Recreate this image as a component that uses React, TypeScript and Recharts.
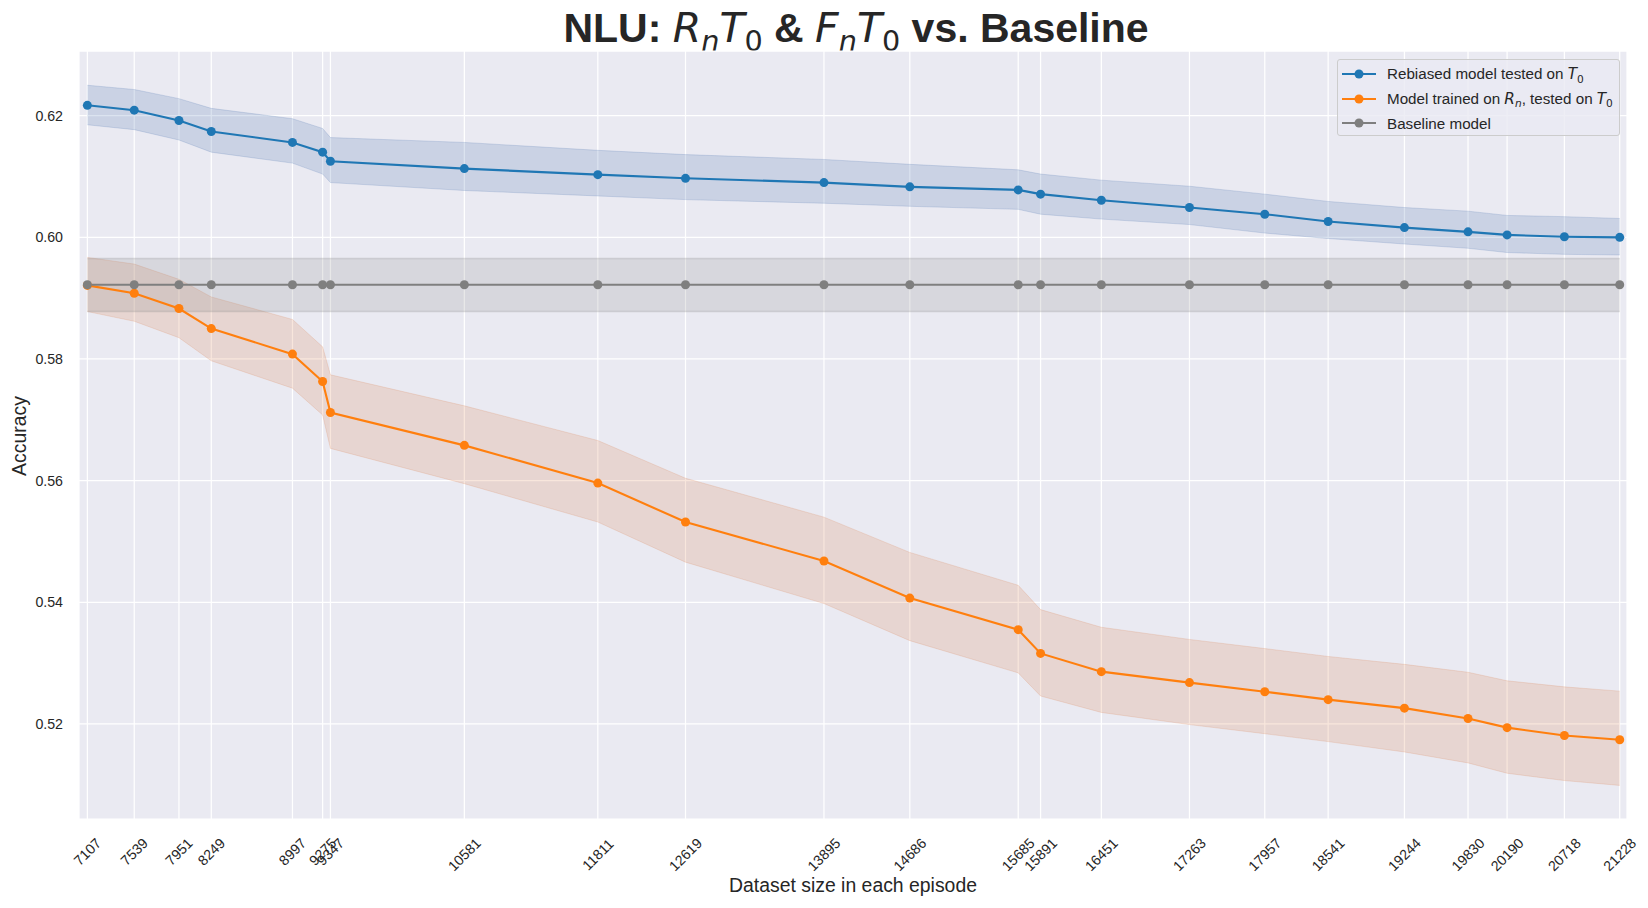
import React from 'react';
import { ComposedChart, Line, Area, XAxis, YAxis, CartesianGrid, Label } from 'recharts';

// dataset size per episode (also the x tick labels)
const sizes = [7107, 7539, 7951, 8249, 8997, 9275, 9347, 10581, 11811, 12619, 13895, 14686, 15685, 15891, 16451, 17263, 17957, 18541, 19244, 19830, 20190, 20718, 21228];

// Rebiased model tested on T0
const rebiasedMean = [0.6217, 0.6209, 0.6192, 0.6174, 0.6156, 0.6140, 0.6125, 0.6113, 0.6103, 0.6097, 0.6090, 0.6083, 0.6078, 0.6071, 0.6061, 0.6049, 0.6038, 0.6026, 0.6016, 0.6009, 0.6004, 0.6001, 0.6000];
const rebiasedHi = [0.6250, 0.6243, 0.6228, 0.6212, 0.6195, 0.6179, 0.6164, 0.6156, 0.6143, 0.6136, 0.6128, 0.6120, 0.6111, 0.6104, 0.6094, 0.6084, 0.6071, 0.6059, 0.6049, 0.6043, 0.6036, 0.6034, 0.6031];
const rebiasedLo = [0.6185, 0.6177, 0.6160, 0.6140, 0.6122, 0.6104, 0.6090, 0.6077, 0.6068, 0.6062, 0.6056, 0.6051, 0.6046, 0.6038, 0.6030, 0.6021, 0.6007, 0.5998, 0.5989, 0.5982, 0.5975, 0.5972, 0.5971];

// Model trained on Rn, tested on T0
const trainedMean = [0.5921, 0.5908, 0.5883, 0.5850, 0.5808, 0.5763, 0.5712, 0.5658, 0.5596, 0.5532, 0.5468, 0.5407, 0.5355, 0.5316, 0.5286, 0.5268, 0.5253, 0.5240, 0.5226, 0.5209, 0.5194, 0.5181, 0.5174];
const trainedHi = [0.5967, 0.5956, 0.5931, 0.5902, 0.5865, 0.5820, 0.5774, 0.5723, 0.5666, 0.5604, 0.5540, 0.5482, 0.5428, 0.5388, 0.5359, 0.5339, 0.5324, 0.5311, 0.5298, 0.5285, 0.5271, 0.5261, 0.5254];
const trainedLo = [0.5878, 0.5862, 0.5835, 0.5797, 0.5752, 0.5708, 0.5653, 0.5595, 0.5532, 0.5466, 0.5398, 0.5337, 0.5284, 0.5246, 0.5219, 0.5199, 0.5184, 0.5171, 0.5154, 0.5136, 0.5119, 0.5107, 0.5099];

// Baseline model
const baselineMean = [0.5922, 0.5922, 0.5922, 0.5922, 0.5922, 0.5922, 0.5922, 0.5922, 0.5922, 0.5922, 0.5922, 0.5922, 0.5922, 0.5922, 0.5922, 0.5922, 0.5922, 0.5922, 0.5922, 0.5922, 0.5922, 0.5922, 0.5922];
const baselineHi = [0.5965, 0.5965, 0.5965, 0.5965, 0.5965, 0.5965, 0.5965, 0.5965, 0.5965, 0.5965, 0.5965, 0.5965, 0.5965, 0.5965, 0.5965, 0.5965, 0.5965, 0.5965, 0.5965, 0.5965, 0.5965, 0.5965, 0.5965];
const baselineLo = [0.5878, 0.5878, 0.5878, 0.5878, 0.5878, 0.5878, 0.5878, 0.5878, 0.5878, 0.5878, 0.5878, 0.5878, 0.5878, 0.5878, 0.5878, 0.5878, 0.5878, 0.5878, 0.5878, 0.5878, 0.5878, 0.5878, 0.5878];

const yTicks = [0.52, 0.54, 0.56, 0.58, 0.60, 0.62];

// line colours (tab10) and band colours (seaborn deep)
const BLUE = '#1f77b4';
const ORANGE = '#ff7f0e';
const GRAY = '#7f7f7f';
const BLUE_BAND = '#4c72b0';
const ORANGE_BAND = '#dd8452';
const GRAY_BAND = '#8c8c8c';
const TEXT = '#262626';
const FONT = '"Liberation Sans", Arial, Helvetica, sans-serif';
const MATH = '"DejaVu Sans", sans-serif';

const data = sizes.map((x, i) => ({
  x,
  rb: rebiasedMean[i],
  rbBand: [rebiasedLo[i], rebiasedHi[i]],
  tr: trainedMean[i],
  trBand: [trainedLo[i], trainedHi[i]],
  bl: baselineMean[i],
  blBand: [baselineLo[i], baselineHi[i]],
}));

const TICK_FS = 14.2;
const DOT_R = 4.5;

const XTick = (props: any) => {
  const { x, payload } = props;
  const label = String(payload.value);
  const w = label.length * 0.556 * TICK_FS;
  const h = TICK_FS * 1.1;
  const cy = 835 + (w + h) * 0.3536;
  return (
    <text
      x={x}
      y={cy}
      transform={`rotate(-45 ${x} ${cy})`}
      textAnchor="middle"
      dominantBaseline="central"
      fontSize={TICK_FS}
      fontFamily={FONT}
      fill={TEXT}
    >
      {label}
    </text>
  );
};

const YTick = (props: any) => {
  const { y, payload } = props;
  return (
    <text x={63} y={y} textAnchor="end" dominantBaseline="central" fontSize={TICK_FS} fontFamily={FONT} fill={TEXT}>
      {Number(payload.value).toFixed(2)}
    </text>
  );
};

// subscript: letters stay italic, digits upright (like mathtext)
const Sub = ({ children, upright }: { children: React.ReactNode; upright?: boolean }) => (
  <span style={{ fontSize: '70%', position: 'relative', top: '0.32em', fontStyle: upright ? 'normal' : 'italic' }}>{children}</span>
);

const M = ({ children }: { children: React.ReactNode }) => (
  <span style={{ fontFamily: MATH, fontStyle: 'italic', fontWeight: 'normal' }}>{children}</span>
);

const LegendRow = ({ color, children }: { color: string; children: React.ReactNode }) => (
  <div style={{ display: 'flex', alignItems: 'center', height: 24.5 }}>
    <svg width={34} height={12} style={{ marginRight: 11, flex: 'none' }}>
      <line x1={0} y1={6} x2={34} y2={6} stroke={color} strokeWidth={2.1} />
      <circle cx={17} cy={6} r={DOT_R} fill={color} />
    </svg>
    <span style={{ whiteSpace: 'nowrap' }}>{children}</span>
  </div>
);

export default function App() {
  return (
    <div style={{ position: 'relative', width: 1648, height: 908, fontFamily: FONT, color: TEXT, background: '#fff' }}>
      <style>{'body{margin:0}'}</style>

      {/* title */}
      <div
        style={{
          position: 'absolute',
          left: 0,
          width: 1712,
          top: 8,
          textAlign: 'center',
          fontSize: 41,
          lineHeight: '41px',
          fontWeight: 'bold',
          whiteSpace: 'nowrap',
        }}
      >
        NLU: <M>R<Sub>n</Sub>T<Sub upright>0</Sub></M> &amp; <M>F<Sub>n</Sub>T<Sub upright>0</Sub></M> vs. Baseline
      </div>

      <ComposedChart width={1648} height={908} data={data} margin={{ top: 51, right: 21, bottom: 0, left: 0 }}>
        <CartesianGrid fill="#EAEAF2" fillOpacity={1} stroke="#ffffff" strokeWidth={1.25} />
        <XAxis
          dataKey="x"
          type="number"
          domain={[7030, 21295]}
          allowDataOverflow
          ticks={sizes}
          interval={0}
          height={89}
          tick={<XTick />}
          tickLine={false}
          axisLine={false}
        >
          <Label
            content={() => (
              <text x={853} y={892} textAnchor="middle" fontSize={19.4} fontFamily={FONT} fill={TEXT}>
                Dataset size in each episode
              </text>
            )}
          />
        </XAxis>
        <YAxis
          type="number"
          domain={[0.50438, 0.63063]}
          allowDataOverflow
          ticks={yTicks}
          interval={0}
          width={79}
          tick={<YTick />}
          tickLine={false}
          axisLine={false}
        >
          <Label
            content={() => (
              <text x={26} y={436} transform="rotate(-90 26 436)" textAnchor="middle" fontSize={19.4} fontFamily={FONT} fill={TEXT}>
                Accuracy
              </text>
            )}
          />
        </YAxis>

        <Area dataKey="rbBand" type="linear" fill={BLUE_BAND} fillOpacity={0.2} stroke={BLUE_BAND} strokeOpacity={0.2} strokeWidth={1} dot={false} activeDot={false} isAnimationActive={false} />
        <Area dataKey="trBand" type="linear" fill={ORANGE_BAND} fillOpacity={0.2} stroke={ORANGE_BAND} strokeOpacity={0.2} strokeWidth={1} dot={false} activeDot={false} isAnimationActive={false} />
        <Area dataKey="blBand" type="linear" fill={GRAY_BAND} fillOpacity={0.2} stroke={GRAY_BAND} strokeOpacity={0.25} strokeWidth={1.5} dot={false} activeDot={false} isAnimationActive={false} />

        <Line dataKey="rb" type="linear" stroke={BLUE} strokeWidth={2.1} dot={{ r: DOT_R, fill: BLUE, stroke: BLUE, strokeWidth: 0 }} activeDot={false} isAnimationActive={false} />
        <Line dataKey="tr" type="linear" stroke={ORANGE} strokeWidth={2.1} dot={{ r: DOT_R, fill: ORANGE, stroke: ORANGE, strokeWidth: 0 }} activeDot={false} isAnimationActive={false} />
        <Line dataKey="bl" type="linear" stroke={GRAY} strokeWidth={2.1} dot={{ r: DOT_R, fill: GRAY, stroke: GRAY, strokeWidth: 0 }} activeDot={false} isAnimationActive={false} />
      </ComposedChart>

      {/* legend */}
      <div
        style={{
          position: 'absolute',
          left: 1337,
          top: 59,
          width: 283,
          height: 77,
          boxSizing: 'border-box',
          border: '1px solid #cccccc',
          borderRadius: 3,
          background: 'rgba(234,234,242,0.8)',
          padding: '2px 0 0 4px',
          fontSize: 15.2,
        }}
      >
        <LegendRow color={BLUE}>
          Rebiased model tested on <M>T<Sub upright>0</Sub></M>
        </LegendRow>
        <LegendRow color={ORANGE}>
          Model trained on <M>R<Sub>n</Sub></M>, tested on <M>T<Sub upright>0</Sub></M>
        </LegendRow>
        <LegendRow color={GRAY}>Baseline model</LegendRow>
      </div>
    </div>
  );
}
